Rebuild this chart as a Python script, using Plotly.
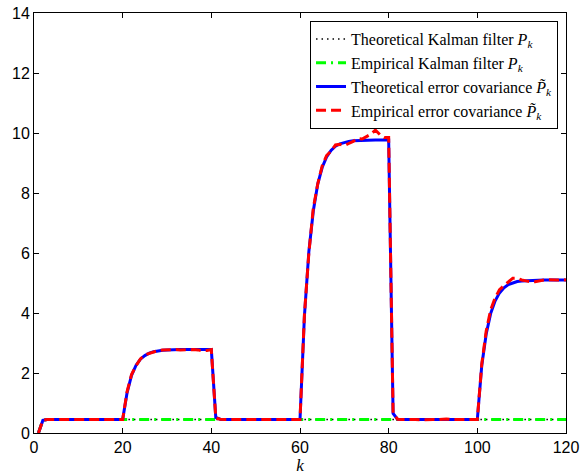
import plotly.graph_objects as go

k = list(range(1, 121))

# Theoretical error covariance (blue)
theo_err = ([0.0, 0.42] + [0.45] * 18 +
            [1.35, 1.92, 2.25, 2.46, 2.58, 2.66, 2.71, 2.74, 2.76, 2.77] + [2.78] * 10 +
            [0.52, 0.46] + [0.45] * 18 +
            [3.9, 6.05, 7.4, 8.3, 8.85, 9.2, 9.42, 9.56, 9.64, 9.69, 9.72, 9.74, 9.75, 9.76] + [9.77] * 6 +
            [0.65, 0.46] + [0.45] * 18 +
            [2.25, 3.3, 3.98, 4.4, 4.67, 4.84, 4.95, 5.01, 5.05, 5.07, 5.08, 5.09] + [5.1] * 8)

# Empirical error covariance (red)
emp_err = ([0.0, 0.43, 0.45, 0.45, 0.46, 0.45, 0.45, 0.44, 0.45, 0.45,
            0.45, 0.46, 0.45, 0.45, 0.45, 0.44, 0.45, 0.45, 0.46, 0.45] +
           [1.38, 1.95, 2.24, 2.47, 2.6, 2.65, 2.72, 2.75, 2.77, 2.78,
            2.79, 2.78, 2.77, 2.78, 2.79, 2.78, 2.77, 2.74, 2.75, 2.78] +
           [0.5, 0.46, 0.45, 0.45, 0.46, 0.45, 0.45, 0.44, 0.45, 0.45,
            0.45, 0.46, 0.45, 0.45, 0.44, 0.45, 0.45, 0.46, 0.45, 0.45] +
           [3.95, 6.0, 7.5, 8.3, 8.9, 9.25, 9.4, 9.6, 9.62, 9.58,
            9.65, 9.72, 9.82, 9.8, 9.88, 9.96, 10.1, 9.95, 9.85, 9.85] +
           [0.66, 0.46, 0.45, 0.45, 0.47, 0.45, 0.44, 0.45, 0.46, 0.45,
            0.44, 0.45, 0.47, 0.45, 0.45, 0.44, 0.45, 0.46, 0.45, 0.45] +
           [2.3, 3.4, 4.1, 4.5, 4.78, 4.9, 5.02, 5.16, 5.16, 5.1,
            5.07, 5.04, 5.04, 5.08, 5.1, 5.11, 5.1, 5.1, 5.11, 5.1])

# Theoretical Kalman filter P_k (black dotted)
theo_kf = [0.0, 0.42] + [0.45] * 118

# Empirical Kalman filter P_k (green dash-dot)
emp_kf = [0.0, 0.43] + [0.45] * 118

fig = go.Figure()
fig.add_trace(go.Scatter(x=k, y=theo_kf, mode="lines",
                         name="Theoretical Kalman filter <i>P<sub>k</sub></i>",
                         line=dict(color="black", width=1.5, dash="1.5px,4px")))
fig.add_trace(go.Scatter(x=k, y=emp_kf, mode="lines",
                         name="Empirical Kalman filter <i>P<sub>k</sub></i>",
                         line=dict(color="#00ff00", width=3, dash="10px,5px,2px,5px")))
fig.add_trace(go.Scatter(x=k, y=theo_err, mode="lines",
                         name="Theoretical error covariance <i>P\u0303<sub>k</sub></i>",
                         line=dict(color="#0000ff", width=3)))
fig.add_trace(go.Scatter(x=k, y=emp_err, mode="lines",
                         name="Empirical error covariance <i>P\u0303<sub>k</sub></i>",
                         line=dict(color="#ff0000", width=3, dash="10px,5px")))

axis_common = dict(showgrid=False, zeroline=False, showline=True, linecolor="black",
                   linewidth=1, mirror="ticks", ticks="inside", ticklen=5,
                   tickcolor="black", automargin=False,
                   tickfont=dict(family="Liberation Sans, Arial", size=16, color="black"))

fig.update_layout(
    width=581, height=475,
    margin=dict(l=34, r=15, t=13, b=42, autoexpand=False),
    paper_bgcolor="white", plot_bgcolor="white",
    showlegend=True,
    legend=dict(x=0.985, y=0.981, xanchor="right", yanchor="top",
                bordercolor="black", borderwidth=1, bgcolor="white",
                font=dict(family="Liberation Serif, Times New Roman", size=16, color="black"),
                tracegroupgap=0, itemwidth=30),
    xaxis=dict(range=[0, 120], tick0=0, dtick=20,
               title=dict(text="<i>k</i>",
                          font=dict(family="Liberation Serif", size=17, color="black")),
               **axis_common),
    yaxis=dict(range=[0, 14], tick0=0, dtick=2, **axis_common),
)

fig.write_html("out.html",
               config={"displayModeBar": False},
               post_script="document.body.style.margin='0';document.body.style.overflow='hidden';")
